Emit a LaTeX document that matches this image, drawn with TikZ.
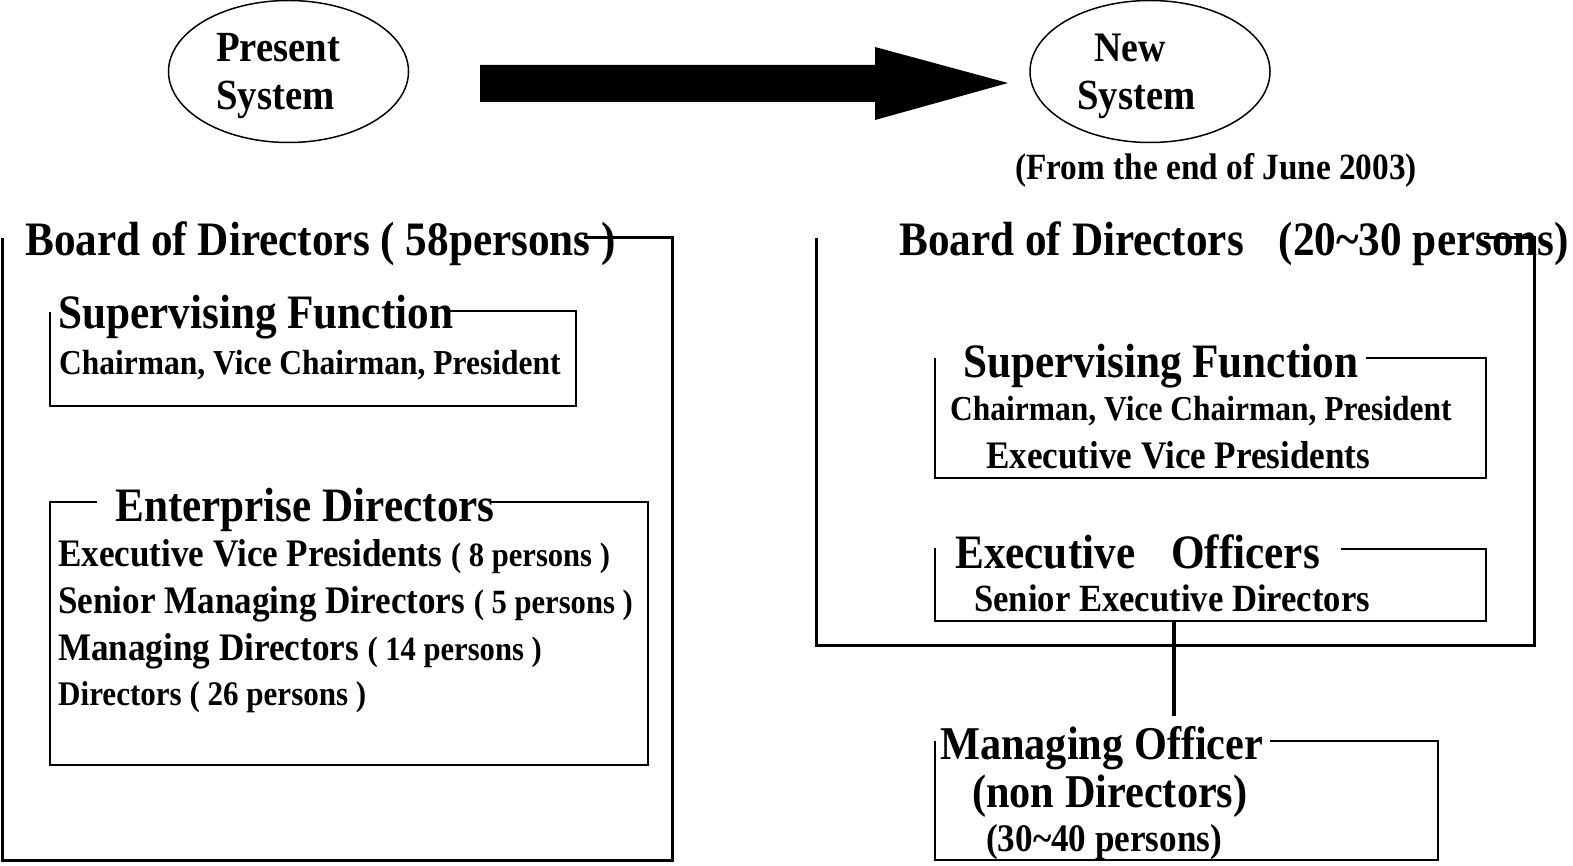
\documentclass[tikz,border=0pt]{standalone}
\usepackage{fontspec}
\setmainfont{Liberation Serif}[FakeStretch=0.9]
\usetikzlibrary{shapes.geometric}
\newcommand{\fs}[1]{\fontsize{#1}{#1}\selectfont\bfseries}
\begin{document}
\begin{tikzpicture}[x=1pt,y=-1pt,
  txt/.style={inner sep=0pt,anchor=base west,font=\bfseries},
  frame/.style={line width=3pt,line cap=rect},
  box/.style={line width=1.5pt},
  oval/.style={draw,ellipse,line width=1.5pt,minimum width=240pt,minimum height=142pt,inner sep=0pt},
  link/.style={line width=4.5pt}]
\useasboundingbox (0,0) rectangle (1573,866);
% ovals
\node[oval] (present) at (288.5,71.5) {};
\node[oval] (new) at (1150,71.5) {};
\node[txt] (p1) at (216,62) {\fs{43}Present};
\node[txt] (p2) at (216,110) {\fs{43}System};
\node[txt] (n1) at (1094,62) {\fs{42}New};
\node[txt] (n2) at (1077,110) {\fs{43}System};
% big arrow
\fill (480,65) -- (875,65) -- (875,47) -- (1008,83) -- (875,120) -- (875,102) -- (480,102) -- cycle;
\node[txt] (date) at (1015,180) {\fs{37}(From the end of June 2003)};
% left board
\node[txt] (lboard) at (25,256) {\fs{48}Board of Directors ( 58persons )};
\draw[frame] (585,238) -- (672,238) -- (672,860) -- (2,860) -- (2,240);
% left supervising
\node[txt] (lsup) at (58,328) {\fs{48}Supervising Function};
\node[txt] (lsup1) at (59,374) {\fs{35}Chairman, Vice Chairman, President};
\draw[box] (450,311) -- (576,311) -- (576,406) -- (50,406) -- (50,312);
% enterprise directors
\node[txt] (ent) at (115,521) {\fs{48}Enterprise Directors};
\node[txt] (ent1) at (58,566) {\fs{39}Executive Vice Presidents {\fs{34}( 8 persons )}};
\node[txt] (ent2) at (58,613) {\fs{39}Senior Managing Directors {\fs{34}( 5 persons )}};
\node[txt] (ent3) at (58,660) {\fs{39}Managing Directors {\fs{34}( 14 persons )}};
\node[txt] (ent4) at (58,705) {\fs{34.5}Directors ( 26 persons )};
\draw[box] (97,502) -- (50,502) -- (50,765) -- (648,765) -- (648,502) -- (490,502);
% right board
\node[txt] (rboard) at (899,256) {\fs{48}Board of Directors\hspace{35pt}(20\textasciitilde 30 persons)};
\draw[frame] (1485,238) -- (1534,238) -- (1534,645) -- (816,645) -- (816,240);
% right supervising
\node[txt] (rsup) at (963,377) {\fs{48}Supervising Function};
\node[txt] (rsup1) at (950,420) {\fs{35}Chairman, Vice Chairman, President};
\node[txt] (rsup2) at (986,468) {\fs{39}Executive Vice Presidents};
\draw[box] (1366,358) -- (1486,358) -- (1486,478) -- (935,478) -- (935,358);
% executive officers
\node[txt] (eo) at (955,568) {\fs{48}Executive\hspace{36pt}Officers};
\node[txt] (eo1) at (974,611) {\fs{38.5}Senior Executive Directors};
\draw[box] (1341,549) -- (1486,549) -- (1486,621) -- (935,621) -- (935,548);
\coordinate (eobot) at (1174,621);
% managing officer
\node[txt] (mo) at (940,759) {\fs{47}Managing Officer};
\node[txt] (mo1) at (972,807) {\fs{47}(non Directors)};
\node[txt] (mo2) at (986,851) {\fs{39}(30\textasciitilde 40 persons)};
\draw[box] (1270,741) -- (1438,741) -- (1438,860) -- (935,860) -- (935,741);
\coordinate (motop) at (1174,716);
\draw[link] (eobot) -- (motop);
\end{tikzpicture}
\end{document}
